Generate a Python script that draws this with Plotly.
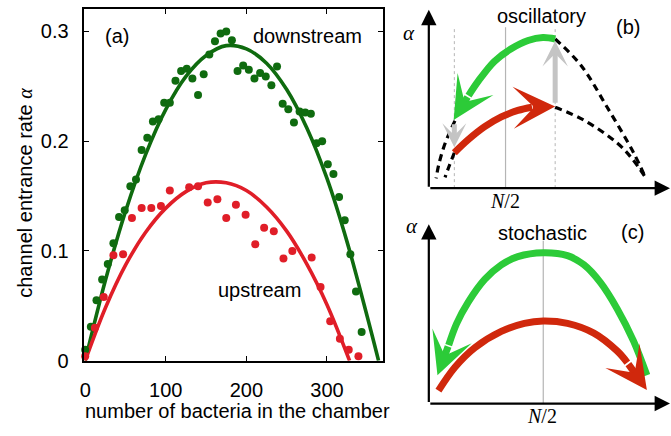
import plotly.graph_objects as go

# ---------------- Panel (a) data ----------------
# downstream (green) measurements: N spacing of ~7 bacteria
down_N = [7 * i for i in range(50)]
down_alpha = [0.010, 0.031, 0.055, 0.074, 0.088, 0.107, 0.131, 0.137, 0.159, 0.165,
              0.192, 0.203, 0.218, 0.220, 0.235, 0.235, 0.255, 0.264, 0.266, 0.257,
              0.242, 0.261, 0.279, 0.291, 0.298, 0.300, 0.292, 0.264, 0.269, 0.265,
              0.257, 0.262, 0.259, 0.251, 0.268, 0.234, 0.229, 0.217, 0.227, 0.226,
              0.225, 0.198, 0.200, 0.179, 0.170, 0.149, 0.128, 0.097, 0.063, 0.026]

# upstream (red) measurements
up_N = [0, 12, 23, 35, 47, 58, 70, 82, 94, 105, 129, 140, 152, 164, 175, 187, 199,
        211, 222, 234, 246, 257, 281, 292, 304, 316, 327, 339]
up_alpha = [0.004, 0.030, 0.058, 0.096, 0.097, 0.130, 0.139, 0.139, 0.141, 0.155,
            0.158, 0.159, 0.144, 0.147, 0.130, 0.142, 0.133, 0.106, 0.121, 0.118,
            0.093, 0.100, 0.094, 0.067, 0.036, 0.020, 0.010, 0.004]

# fitted curves
down_fit_N = [0, 25, 50, 75, 100, 125, 150, 175, 200, 225, 250, 275, 300, 325, 350, 364]
down_fit_alpha = [0.0, 0.073, 0.136, 0.188, 0.229, 0.259, 0.278, 0.287, 0.284, 0.271,
                  0.247, 0.212, 0.166, 0.108, 0.040, 0.0]
up_fit_N = [0, 25, 50, 75, 100, 125, 150, 175, 200, 225, 250, 275, 300, 328]
up_fit_alpha = [0.0, 0.048, 0.087, 0.117, 0.139, 0.154, 0.162, 0.162, 0.155, 0.140,
                0.118, 0.088, 0.051, 0.0]

x_ticks = [0, 100, 200, 300]
y_ticks = [0, 0.1, 0.2, 0.3]
y_ticktext = ["0", "0.1", "0.2", "0.3"]

# ---------------- Panel (b) schematic (arbitrary units) ----------------
b_half = 77.3
b_marks = [25.7, 127.3]
b_green_u = [127.3, 115, 100, 83, 66, 50, 40]
b_green_v = [153, 154.5, 151.5, 143, 130, 110, 95]
b_green_tip = (25, 70)
b_red_u = [25.7, 39.7, 56.3, 73, 89.7, 104]
b_red_v = [36.3, 49.7, 63, 73, 79.7, 83]
b_red_tip = (127.3, 83.7)
b_upper_right_u = [127.3, 153, 179.7, 206.3, 218]
b_upper_right_v = [153, 126.3, 83, 36.3, 11.3]
b_lower_right_u = [127.3, 156.3, 189.7, 205, 218]
b_lower_right_v = [83, 69.7, 46.3, 30, 11.3]
b_upper_left_u = [26.3, 20, 14.7, 10, 7.3]
b_upper_left_v = [69, 55, 41, 24, 10]
b_lower_left_u = [25.7, 21, 16.3]
b_lower_left_v = [36.3, 24, 11]
b_gray_up = ((127.3, 86), (127.3, 151))
b_gray_down = ((25.7, 67), (25.7, 42))

# ---------------- Panel (c) schematic ----------------
c_half = 115.3
c_green_u = [219.7, 206.3, 189.7, 173, 156.3, 139.7, 115.3, 89.7, 73, 56.3, 39.7, 28, 20]
c_green_v = [29, 64, 97.3, 124, 142.3, 151.7, 154.7, 150.7, 142.3, 127.3, 104, 82, 60]
c_green_tip = (8.7, 29)
c_red_u = [9.7, 26.3, 46.3, 73, 96.3, 115.3, 139.7, 166.3, 189.7, 200]
c_red_v = [13.3, 37.3, 57.3, 74, 82.3, 84.7, 82.3, 72.3, 54, 42]
c_red_tip = (219.7, 14)

GREEN_DATA = "#0f6b0f"
RED_DATA = "#e01e28"
GREEN_ARR = "#2ccb38"
RED_ARR = "#d0280c"
GRAY = "#c4c4c4"
FONT = "Liberation Sans, Arial, sans-serif"
SERIF = "Liberation Serif, Times New Roman, serif"

W, H = 671, 436


def px(x):
    return x / W


def py(y):
    return 1 - y / H


fig = go.Figure()

# panel (a)
fig.add_trace(go.Scatter(x=down_fit_N, y=down_fit_alpha, mode="lines", line=dict(color=GREEN_DATA, width=3.6, shape="spline"),
                         xaxis="x", yaxis="y", hoverinfo="skip"))
fig.add_trace(go.Scatter(x=up_fit_N, y=up_fit_alpha, mode="lines", line=dict(color=RED_DATA, width=3.6, shape="spline"),
                         xaxis="x", yaxis="y", hoverinfo="skip"))
fig.add_trace(go.Scatter(x=down_N, y=down_alpha, mode="markers", marker=dict(color=GREEN_DATA, size=8),
                         xaxis="x", yaxis="y", cliponaxis=False))
fig.add_trace(go.Scatter(x=up_N, y=up_alpha, mode="markers", marker=dict(color=RED_DATA, size=8),
                         xaxis="x", yaxis="y", cliponaxis=False))

# panel (b)
for xv in b_marks:
    fig.add_trace(go.Scatter(x=[xv, xv], y=[0, 165], mode="lines", line=dict(color="#b5b5b5", width=1, dash="3px,3px"),
                             xaxis="x2", yaxis="y2"))
fig.add_trace(go.Scatter(x=[b_half, b_half], y=[0, 165], mode="lines", line=dict(color="#b5b5b5", width=1.2),
                         xaxis="x2", yaxis="y2"))
for uu, vv in [(b_upper_right_u, b_upper_right_v), (b_lower_right_u, b_lower_right_v),
               (b_upper_left_u, b_upper_left_v), (b_lower_left_u, b_lower_left_v)]:
    fig.add_trace(go.Scatter(x=uu, y=vv, mode="lines", line=dict(color="black", width=3.2, dash="7px,5px", shape="spline"),
                             xaxis="x2", yaxis="y2"))
fig.add_trace(go.Scatter(x=b_green_u, y=b_green_v, mode="lines", line=dict(color=GREEN_ARR, width=7, shape="spline"),
                         xaxis="x2", yaxis="y2"))
fig.add_trace(go.Scatter(x=b_red_u, y=b_red_v, mode="lines", line=dict(color=RED_ARR, width=7, shape="spline"),
                         xaxis="x2", yaxis="y2"))

# panel (c)
fig.add_trace(go.Scatter(x=[c_half, c_half], y=[0, 167], mode="lines", line=dict(color="#b5b5b5", width=1.2),
                         xaxis="x3", yaxis="y3"))
fig.add_trace(go.Scatter(x=c_green_u, y=c_green_v, mode="lines", line=dict(color=GREEN_ARR, width=7, shape="spline"),
                         xaxis="x3", yaxis="y3"))
fig.add_trace(go.Scatter(x=c_red_u, y=c_red_v, mode="lines", line=dict(color=RED_ARR, width=7, shape="spline"),
                         xaxis="x3", yaxis="y3"))


def arrow(xr, yr, tail, tip, color, width, head, size):
    fig.add_annotation(x=tip[0], y=tip[1], ax=tail[0], ay=tail[1], xref=xr, yref=yr, axref=xr, ayref=yr,
                       showarrow=True, arrowhead=head, arrowsize=size, arrowwidth=width, arrowcolor=color,
                       text="", standoff=0, startstandoff=0)


# schematic arrows
arrow("x2", "y2", b_gray_up[0], b_gray_up[1], GRAY, 5, 3, 0.85)
arrow("x2", "y2", b_gray_down[0], b_gray_down[1], GRAY, 5, 3, 0.8)
arrow("x2", "y2", (b_green_u[-1], b_green_v[-1]), b_green_tip, GREEN_ARR, 7, 3, 1.0)
arrow("x2", "y2", (b_red_u[-1], b_red_v[-1]), b_red_tip, RED_ARR, 7, 3, 1.0)
arrow("x3", "y3", (c_green_u[-1], c_green_v[-1]), c_green_tip, GREEN_ARR, 7, 3, 1.0)
arrow("x3", "y3", (c_red_u[-1], c_red_v[-1]), c_red_tip, RED_ARR, 7, 3, 1.0)
# axis arrows
for xr, yr, top in [("x2", "y2", 183), ("x3", "y3", 184)]:
    arrow(xr, yr, (0, 0), (0, top), "black", 2.2, 2, 1.4)
    arrow(xr, yr, (0, 0), (243, 0), "black", 2.2, 2, 1.4)


def label(text, x, y, size=20, family=FONT, angle=0):
    fig.add_annotation(text=text, x=px(x), y=py(y), xref="paper", yref="paper", showarrow=False,
                       xanchor="center", yanchor="middle", textangle=angle,
                       font=dict(family=family, size=size, color="black"))


label("(a)", 112.5, 37)
label("downstream", 305, 37)
label("upstream", 256, 298)
label("oscillatory", 541, 16)
label("(b)", 628, 28)
label("<i>α</i>", 407, 34, family=SERIF, size=21)
label("<i>N</i>/2", 504, 206, family=SERIF)
label("stochastic", 542, 239)
label("(c)", 632.5, 238)
label("<i>α</i>", 410, 232, family=SERIF, size=21)
label("<i>N</i>/2", 541, 427, family=SERIF)
label("channel entrance rate <span style='font-family:Liberation Serif'><i>α</i></span>", 20, 198, angle=-90)
label("number of bacteria in the chamber", 234.5, 422)

axis_common = dict(showgrid=False, zeroline=False, showline=True, mirror="ticks", linecolor="black", linewidth=1.5,
                   ticks="inside", ticklen=5, tickwidth=1.2, tickcolor="black",
                   tickfont=dict(family=FONT, size=20, color="black"))

fig.update_layout(
    width=W, height=H, margin=dict(l=0, r=0, t=0, b=0),
    paper_bgcolor="white", plot_bgcolor="white", showlegend=False,
    xaxis=dict(domain=[px(80), px(381)], range=[-1, 369.7], tickvals=x_ticks, anchor="y",
               ticklabelstandoff=11, **axis_common),
    yaxis=dict(domain=[py(370), py(9)], range=[0, 0.3206], tickvals=y_ticks, ticktext=y_ticktext, anchor="x",
               ticklabelstandoff=10, **axis_common),
    xaxis2=dict(domain=[px(427), px(670)], range=[0, 243], visible=False, anchor="y2"),
    yaxis2=dict(domain=[py(193), py(10)], range=[0, 183], visible=False, anchor="x2"),
    xaxis3=dict(domain=[px(427), px(670)], range=[0, 243], visible=False, anchor="y3"),
    yaxis3=dict(domain=[py(414), py(231)], range=[0, 183], visible=False, anchor="x3"),
)

fig.write_html("out.html")
